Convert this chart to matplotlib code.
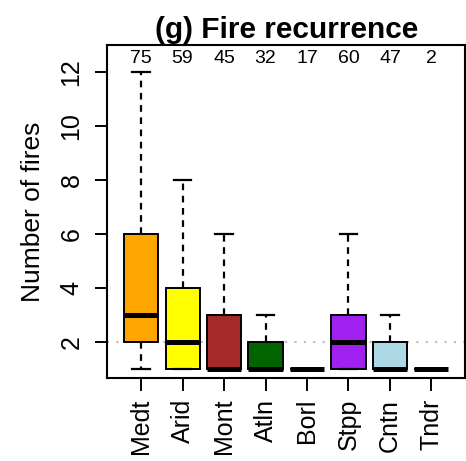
import matplotlib
matplotlib.use("Agg")
import matplotlib.pyplot as plt

categories = ["Medt", "Arid", "Mont", "Atln", "Borl", "Stpp", "Cntn", "Tndr"]
counts = [75, 59, 45, 32, 17, 60, 47, 2]
q1 = [2, 1, 1, 1, 1, 1, 1, 1]
med = [3, 2, 1, 1, 1, 2, 1, 1]
q3 = [6, 4, 3, 2, 1, 3, 2, 1]
whislo = [1, 1, 1, 1, 1, 1, 1, 1]
whishi = [12, 8, 6, 3, 1, 6, 3, 1]
colors = ["#FFA500", "#FFFF00", "#A52A2A", "#006400", "#1E3A8A", "#A020F0", "#ADD8E6", "#808080"]

plt.rcParams['font.family'] = ['Liberation Sans', 'DejaVu Sans']

fig = plt.figure(figsize=(4.66, 4.61), dpi=100)
ax = fig.add_axes([107/466, 1-378/461, (465.5-107)/466, (378-45)/461])

stats = []
for i in range(len(categories)):
    stats.append(dict(label=categories[i], q1=q1[i], med=med[i], q3=q3[i],
                      whislo=whislo[i], whishi=whishi[i], fliers=[]))

ax.axhline(2, color="#bbbbbb", lw=1.5, ls=(0, (1, 3.5)), zorder=0)

bp = ax.bxp(stats, positions=range(1, len(categories)+1), widths=0.82,
            patch_artist=True, showfliers=False,
            boxprops=dict(lw=1.4, edgecolor="black"),
            medianprops=dict(color="black", lw=3.6, solid_capstyle="butt"),
            whiskerprops=dict(color="black", lw=1.6, ls=(0, (3, 2.5))),
            capprops=dict(color="black", lw=1.6),
            capwidths=0.43)
for patch, c in zip(bp["boxes"], colors):
    patch.set_facecolor(c)
    patch.set_zorder(2)

for i, n in enumerate(counts):
    ax.text(i+1, 12.5, str(n), ha="center", va="center", fontsize=14)

ax.set_xlim(0.18, 8.82)
ax.set_ylim(0.65, 13.0)
ax.set_yticks([2, 4, 6, 8, 10, 12])
ax.set_yticklabels(["2", "4", "6", "8", "10", "12"], rotation=90, va="center")
ax.set_xticks(range(1, len(categories)+1))
ax.set_xticklabels(categories, rotation=90)
ax.tick_params(axis="both", labelsize=18, length=9, width=1.4)
ax.tick_params(axis="y", pad=8)
ax.tick_params(axis="x", pad=6)
for s in ax.spines.values():
    s.set_linewidth(1.5)
ax.set_ylabel("Number of fires", fontsize=19, labelpad=10)
ax.set_title("(g) Fire recurrence", fontsize=21.5, fontweight="bold", pad=5)

fig.savefig("out.png", dpi=100)
